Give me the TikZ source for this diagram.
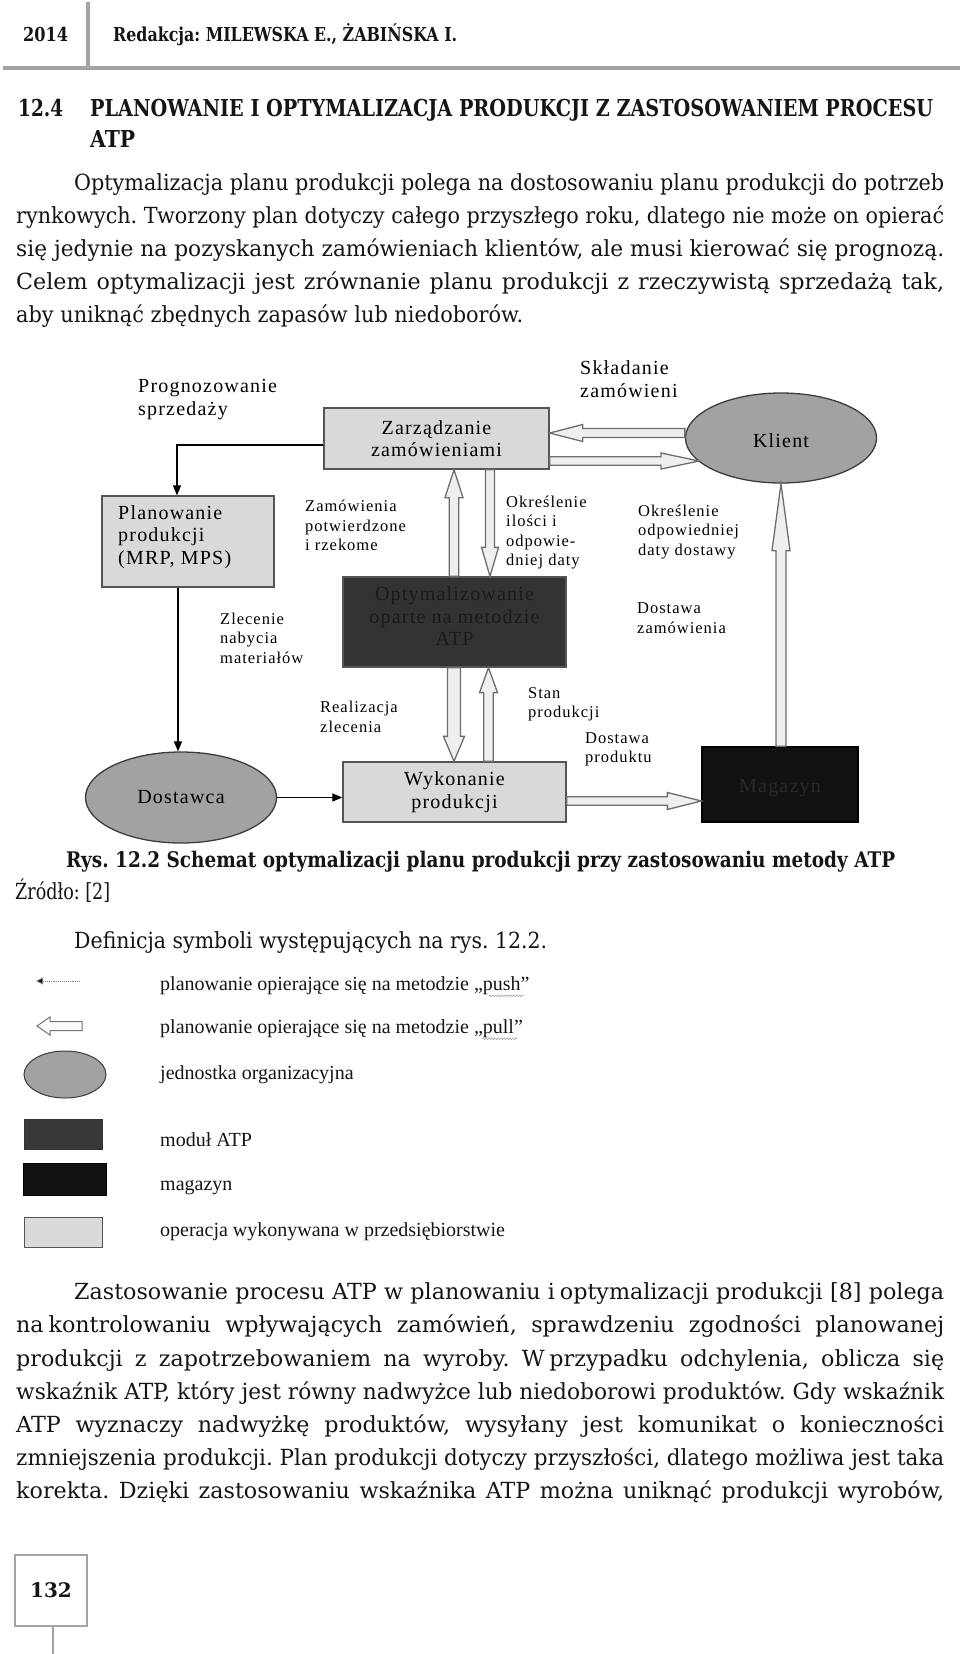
\documentclass[tikz,border=0pt]{standalone}
\usepackage{graphicx}
\usepackage{fontspec}
\setmainfont{DejaVu Serif}
\newfontfamily\dgf{Liberation Serif}[LetterSpace=6]
\newfontfamily\lgf{Liberation Serif}
\usetikzlibrary{shapes.geometric,arrows.meta,calc,decorations.pathmorphing}
\frenchspacing
\newlength\jlw
\newcommand\jline[2]{\settowidth\jlw{#2}\ifdim\jlw<#1\relax\makebox[#1][s]{#2}\else\resizebox{#1}{\height}{#2}\fi}
\newcommand\fitw[2]{\resizebox{#1}{\height}{#2}}
\newcommand\nb{\hspace{0.22em}}
\newcommand\pullarr[6][]{%
  \coordinate (paB) at ($(#3)!#6pt!(#2)$);
  \filldraw[pullst,#1] ($(#2)!#4pt!90:(#3)$) -- ($(paB)!#4pt!90:(#3)$) -- ($(paB)!#5pt!90:(#3)$) -- (#3) -- ($(paB)!#5pt!-90:(#3)$) -- ($(paB)!#4pt!-90:(#3)$) -- ($(#2)!#4pt!-90:(#3)$) -- cycle;
}
\definecolor{lightbox}{HTML}{D9D9D9}
\definecolor{boxline}{HTML}{555555}
\definecolor{ellfill}{HTML}{A2A2A2}
\definecolor{ellline}{HTML}{3C3C3C}
\definecolor{atpfill}{HTML}{333333}
\definecolor{atptext}{HTML}{1A1A1A}
\definecolor{magfill}{HTML}{111111}
\definecolor{magtext}{HTML}{2A2A2A}
\definecolor{arrfill}{HTML}{EFEFEF}
\definecolor{arrline}{HTML}{6E6E6E}
\definecolor{rulegray}{HTML}{A3A3A3}
\definecolor{ink}{HTML}{151515}
\tikzset{
  rulest/.style={draw=rulegray, line width=4pt},
  hdr/.style={inner sep=0pt, anchor=mid west, text=ink, font=\bfseries\fontsize{19.2}{23}\selectfont},
  hd/.style={inner sep=0pt, anchor=mid west, text=ink, font=\bfseries\fontsize{23.3}{28}\selectfont},
  body/.style={inner sep=0pt, anchor=mid west, text=ink, font=\fontsize{22.2}{26}\selectfont},
  bodyb/.style={body, font=\bfseries\fontsize{21.5}{26}\selectfont},
  opbox/.style={draw=boxline, fill=lightbox, line width=1.3pt, inner sep=0pt, align=center, font=\dgf\fontsize{20}{22.5}\selectfont},
  unit/.style={ellipse, draw=ellline, fill=ellfill, line width=1.3pt, inner sep=0pt, font=\dgf\fontsize{20}{22.5}\selectfont},
  biglbl/.style={inner sep=0pt, anchor=west, align=left, font=\dgf\fontsize{20}{22.5}\selectfont},
  smllbl/.style={inner sep=0pt, anchor=west, align=left, font=\dgf\fontsize{16.5}{19.5}\selectfont},
  push/.style={draw=black, line width=1.1pt, -{Triangle[length=10pt,width=8pt]}},
  pullst/.style={fill=arrfill, draw=arrline, line width=1.3pt, line join=miter},
  legtxt/.style={inner sep=0pt, anchor=mid west, text=ink, font=\lgf\fontsize{20}{24}\selectfont},
  spell/.style={draw=gray!70, line width=0.6pt, decorate, decoration={snake, amplitude=0.9pt, segment length=3pt}},
}
\begin{document}
\begin{tikzpicture}[x=1pt,y=-1pt]
\useasboundingbox (0,0) rectangle (960,1654);
\fill[white] (0,0) rectangle (960,1654);

% ---------- page header ----------
\draw[rulest] (3,68) -- (960,68);
\draw[rulest] (88,2) -- (88,68);
\node[hdr] (year) at (23,39) {\fitw{45pt}{2014}};
\node[hdr] (eds) at (113,39) {\fitw{344pt}{Redakcja: MILEWSKA E., ŻABIŃSKA I.}};

% ---------- section heading ----------
\node[hd] (secno) at (18,114) {\fitw{45pt}{12.4}};
\node[hd] (sect1) at (90,114) {\fitw{843pt}{PLANOWANIE I OPTYMALIZACJA PRODUKCJI Z ZASTOSOWANIEM PROCESU}};
\node[hd] (sect2) at (90,144.5) {\fitw{45pt}{ATP}};

% ---------- paragraph 1 ----------
\node[body] (p1a) at (74,187.5) {\jline{870pt}{Optymalizacja planu produkcji polega na dostosowaniu planu produkcji do potrzeb}};
\node[body] (p1b) at (16,220.7) {\jline{928pt}{rynkowych. Tworzony plan dotyczy całego przyszłego roku, dlatego nie może on opierać}};
\node[body] (p1c) at (16,253.9) {\jline{928pt}{się jedynie na pozyskanych zamówieniach klientów, ale musi kierować się prognozą.}};
\node[body] (p1d) at (16,287.1) {\jline{928pt}{Celem optymalizacji jest zrównanie planu produkcji z rzeczywistą sprzedażą tak,}};
\node[body] (p1e) at (16,320.3) {\fitw{507pt}{aby uniknąć zbędnych zapasów lub niedoborów.}};

% ---------- diagram nodes ----------
\node[opbox, minimum width=225pt, minimum height=61pt] (zarz) at (436.5,438.5) {Zarządzanie\\zamówieniami};
\node[opbox, minimum width=172pt, minimum height=91pt] (plan) at (188,541.5) {};
\node[opbox, fill=atpfill, minimum width=223pt, minimum height=90pt] (opt) at (454.5,622) {};
\node[opbox, minimum width=223pt, minimum height=60pt] (wyk) at (454.5,792) {Wykonanie\\produkcji};
\node[opbox, fill=magfill, draw=black, text=magtext, minimum width=156pt, minimum height=75pt, text height=21pt, text depth=4.3pt] (mag) at (780,784.5) {Magazyn};
\node[unit, minimum width=191pt, minimum height=90pt, text height=19pt, text depth=0pt] (klient) at (781,438) {Klient};
\node[unit, minimum width=191pt, minimum height=91pt] (dost) at (181,797.5) {Dostawca};

\node[biglbl] (planlbl) at (118,537) {\strut Planowanie\\\strut produkcji\\\strut (MRP, MPS)};
\node[biglbl, anchor=center, align=center, text=atptext] (optlbl) at (454.5,618.5) {\strut Optymalizowanie\\\strut oparte na metodzie\\\strut ATP};

% ---------- diagram labels ----------
\node[biglbl] (prog) at (138,399.5) {\strut Prognozowanie\\\strut sprzedaży};
\node[biglbl] (sklad) at (580,381.5) {\strut Składanie\\\strut zamówieni};
\node[smllbl] (zampot) at (305,527.5) {\strut Zamówienia\\\strut potwierdzone\\\strut i rzekome};
\node[smllbl] (okril) at (506,532.5) {\strut Określenie\\\strut ilości i\\\strut odpowie-\\\strut dniej daty};
\node[smllbl] (okrdat) at (638,532) {\strut Określenie\\\strut odpowiedniej\\\strut daty dostawy};
\node[smllbl] (dostzam) at (637,619.5) {\strut Dostawa\\\strut zamówienia};
\node[smllbl] (zlec) at (220,640) {\strut Zlecenie\\\strut nabycia\\\strut materiałów};
\node[smllbl] (real) at (320,718.5) {\strut Realizacja\\\strut zlecenia};
\node[smllbl] (stan) at (528,704) {\strut Stan\\\strut produkcji};
\node[smllbl] (dostprod) at (585,749) {\strut Dostawa\\\strut produktu};

% ---------- push connectors ----------
\draw[push] (zarz.west |- 0,445) -| (plan.north -| 177,0);
\draw[push] (plan.south -| 178,0) -- (dost.north -| 178,0);
\draw[push] (dost.east) -- (wyk.west |- dost.east);

% ---------- pull connectors ----------
\coordinate (a1s) at (klient.west |- 0,433);
\coordinate (a1t) at (zarz.east |- 0,433);
\pullarr{a1s}{a1t}{4.5}{8.5}{33}
\coordinate (a2s) at (zarz.east |- 0,461);
\coordinate (a2t) at ($(klient.center)+(-82,23)$);
\pullarr{a2s}{a2t}{4.3}{8}{38}
\coordinate (a3s) at (opt.north -| 454,0);
\coordinate (a3t) at (zarz.south -| 454,0);
\pullarr{a3s}{a3t}{4.8}{9}{28}
\coordinate (a4s) at (zarz.south -| 490,0);
\coordinate (a4t) at (opt.north -| 490,0);
\pullarr{a4s}{a4t}{4.5}{8.5}{29}
\coordinate (a5s) at (opt.south -| 454,0);
\coordinate (a5t) at (wyk.north -| 454,0);
\pullarr{a5s}{a5t}{6.5}{10.5}{25}
\coordinate (a6s) at (wyk.north -| 488.5,0);
\coordinate (a6t) at (opt.south -| 488.5,0);
\pullarr{a6s}{a6t}{4.7}{9}{25}
\coordinate (a7s) at (wyk.east |- 0,801);
\coordinate (a7t) at (mag.west |- 0,801);
\pullarr{a7s}{a7t}{4.3}{8.5}{34}
\coordinate (a8s) at (mag.north -| 781,0);
\coordinate (a8t) at (klient.south);
\pullarr{a8s}{a8t}{5}{9}{67}

% ---------- caption ----------
\node[bodyb] (cap) at (66,865) {\fitw{829pt}{Rys. 12.2 Schemat optymalizacji planu produkcji przy zastosowaniu metody ATP}};
\node[body] (src) at (15,896.5) {\fitw{95pt}{Źródło: [2]}};
\node[body] (defs) at (74,946) {\fitw{473pt}{Definicja symboli występujących na rys. 12.2.}};

% ---------- legend ----------
\coordinate (lp1) at (80,981);
\coordinate (lp2) at (36,981);
\draw[draw=gray, densely dotted, line width=0.9pt, -{Triangle[length=7pt,width=7pt,fill=black]}] (lp1) -- (lp2);
\coordinate (lq1) at (82,1026);
\coordinate (lq2) at (37,1026);
\pullarr[fill=white, draw=gray!90!black, line width=1pt]{lq1}{lq2}{4.5}{9}{13}
\node[ellipse, draw=ellline, fill=ellfill, line width=1pt, minimum width=82pt, minimum height=47pt, inner sep=0pt] (lgell) at (65,1074.5) {};
\node[draw=atpfill, fill=atpfill!110!black, minimum width=78.5pt, minimum height=30pt, inner sep=0pt] (lgatp) at (63.25,1134) {};
\node[draw=black, fill=magfill, minimum width=83pt, minimum height=32pt, inner sep=0pt] (lgmag) at (64.5,1179) {};
\node[draw=boxline, fill=lightbox, line width=1pt, minimum width=78pt, minimum height=30pt, inner sep=0pt] (lgop) at (63,1232) {};
\node[legtxt] (lt1) at (160,987.7) {planowanie opierające się na metodzie „push”};
\node[legtxt] (lt2) at (160,1030.7) {planowanie opierające się na metodzie „pull”};
\node[legtxt] (lt3) at (160,1076.7) {jednostka organizacyjna};
\node[legtxt] (lt4) at (160,1143.7) {moduł ATP};
\node[legtxt] (lt5) at (160,1187.7) {magazyn};
\node[legtxt] (lt6) at (160,1233.7) {operacja wykonywana w przedsiębiorstwie};
\draw[spell] ($(lt1.south east)+(-41,1)$) -- ($(lt1.south east)+(-6,1)$);
\draw[spell] ($(lt2.south east)+(-41,1)$) -- ($(lt2.south east)+(-6,1)$);

% ---------- paragraph 2 ----------
\node[body] (p2a) at (74,1297) {\jline{870pt}{Zastosowanie procesu ATP w planowaniu i\nb optymalizacji produkcji [8] polega}};
\node[body] (p2b) at (16,1330.2) {\jline{928pt}{na\nb kontrolowaniu wpływających zamówień, sprawdzeniu zgodności planowanej}};
\node[body] (p2c) at (16,1363.4) {\jline{928pt}{produkcji z zapotrzebowaniem na wyroby. W\nb przypadku odchylenia, oblicza się}};
\node[body] (p2d) at (16,1396.6) {\jline{928pt}{wskaźnik ATP, który jest równy nadwyżce lub niedoborowi produktów. Gdy wskaźnik}};
\node[body] (p2e) at (16,1429.8) {\jline{928pt}{ATP wyznaczy nadwyżkę produktów, wysyłany jest komunikat o konieczności}};
\node[body] (p2f) at (16,1463) {\jline{928pt}{zmniejszenia produkcji. Plan produkcji dotyczy przyszłości, dlatego możliwa jest taka}};
\node[body] (p2g) at (16,1496.2) {\jline{928pt}{korekta. Dzięki zastosowaniu wskaźnika ATP można uniknąć produkcji wyrobów,}};

% ---------- page number ----------
\node[draw=rulegray, line width=2.5pt, minimum width=72pt, minimum height=71pt, inner sep=0pt, text=ink, font=\bfseries\fontsize{20}{24}\selectfont] (pgno) at (51,1590.5) {132};
\coordinate (pgend) at (53,1654);
\draw[draw=rulegray, line width=2.5pt] (pgno.south -| pgend) -- (pgend);
\end{tikzpicture}
\end{document}
